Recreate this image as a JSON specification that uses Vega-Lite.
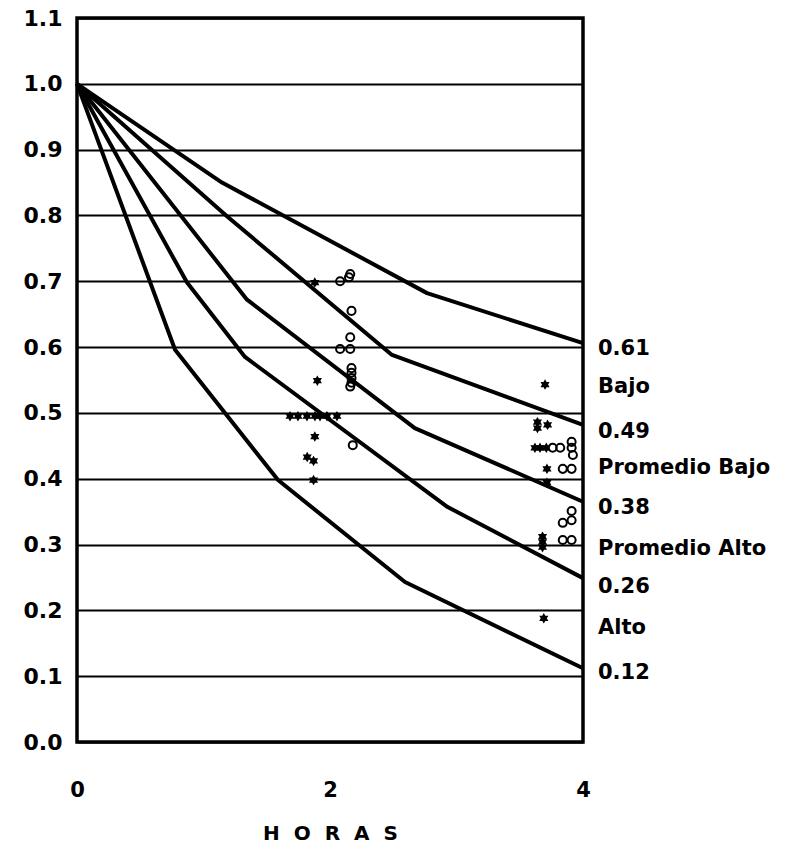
{
  "$schema": "https://vega.github.io/schema/vega-lite/v6.json",
  "width": 506,
  "height": 724,
  "autosize": {"type": "none"},
  "padding": {"left": 77, "top": 18, "right": 203, "bottom": 111},
  "background": "white",
  "datasets": {
    "curves": [
      {"curve": "c1", "t": 0, "v": 1.0},
      {"curve": "c1", "t": 1.146, "v": 0.85},
      {"curve": "c1", "t": 2.767, "v": 0.682},
      {"curve": "c1", "t": 4, "v": 0.606},
      {"curve": "c2", "t": 0, "v": 1.0},
      {"curve": "c2", "t": 1.19, "v": 0.798},
      {"curve": "c2", "t": 2.49, "v": 0.588},
      {"curve": "c2", "t": 4, "v": 0.482},
      {"curve": "c3", "t": 0, "v": 1.0},
      {"curve": "c3", "t": 1.344, "v": 0.672},
      {"curve": "c3", "t": 2.67, "v": 0.477},
      {"curve": "c3", "t": 4, "v": 0.365},
      {"curve": "c4", "t": 0, "v": 1.0},
      {"curve": "c4", "t": 0.87, "v": 0.698},
      {"curve": "c4", "t": 1.328, "v": 0.585},
      {"curve": "c4", "t": 2.93, "v": 0.357},
      {"curve": "c4", "t": 4, "v": 0.249},
      {"curve": "c5", "t": 0, "v": 1.0},
      {"curve": "c5", "t": 0.775, "v": 0.596},
      {"curve": "c5", "t": 1.589, "v": 0.398},
      {"curve": "c5", "t": 2.593, "v": 0.243},
      {"curve": "c5", "t": 4, "v": 0.112}
    ],
    "stars": [
      {"t": 1.88, "v": 0.698},
      {"t": 1.9, "v": 0.549},
      {"t": 1.684, "v": 0.495},
      {"t": 1.747, "v": 0.495},
      {"t": 1.818, "v": 0.495},
      {"t": 1.881, "v": 0.495},
      {"t": 1.921, "v": 0.495},
      {"t": 1.976, "v": 0.495},
      {"t": 2.055, "v": 0.495},
      {"t": 1.88, "v": 0.464},
      {"t": 1.82, "v": 0.433},
      {"t": 1.87, "v": 0.427},
      {"t": 1.87, "v": 0.398},
      {"t": 3.7, "v": 0.543},
      {"t": 3.64, "v": 0.486},
      {"t": 3.72, "v": 0.482},
      {"t": 3.64, "v": 0.477},
      {"t": 3.62, "v": 0.447},
      {"t": 3.66, "v": 0.447},
      {"t": 3.71, "v": 0.447},
      {"t": 3.715, "v": 0.415},
      {"t": 3.715, "v": 0.394},
      {"t": 3.68, "v": 0.312},
      {"t": 3.68, "v": 0.304},
      {"t": 3.68, "v": 0.296},
      {"t": 3.69, "v": 0.188}
    ],
    "circles": [
      {"t": 2.08, "v": 0.7},
      {"t": 2.15, "v": 0.706},
      {"t": 2.16, "v": 0.711},
      {"t": 2.17, "v": 0.655},
      {"t": 2.16, "v": 0.615},
      {"t": 2.08, "v": 0.597},
      {"t": 2.16, "v": 0.597},
      {"t": 2.17, "v": 0.568},
      {"t": 2.17, "v": 0.561},
      {"t": 2.17, "v": 0.553},
      {"t": 2.17, "v": 0.546},
      {"t": 2.16, "v": 0.54},
      {"t": 2.18, "v": 0.451},
      {"t": 3.76, "v": 0.447},
      {"t": 3.82, "v": 0.447},
      {"t": 3.91, "v": 0.456},
      {"t": 3.91, "v": 0.447},
      {"t": 3.92, "v": 0.436},
      {"t": 3.84, "v": 0.415},
      {"t": 3.91, "v": 0.415},
      {"t": 3.84, "v": 0.333},
      {"t": 3.91, "v": 0.337},
      {"t": 3.91, "v": 0.351},
      {"t": 3.84, "v": 0.307},
      {"t": 3.91, "v": 0.307}
    ],
    "labels": [
      {"t": 4, "v": 0.597, "text": "0.61"},
      {"t": 4, "v": 0.54, "text": "Bajo"},
      {"t": 4, "v": 0.471, "text": "0.49"},
      {"t": 4, "v": 0.416, "text": "Promedio Bajo"},
      {"t": 4, "v": 0.356, "text": "0.38"},
      {"t": 4, "v": 0.293, "text": "Promedio Alto"},
      {"t": 4, "v": 0.236, "text": "0.26"},
      {"t": 4, "v": 0.173, "text": "Alto"},
      {"t": 4, "v": 0.105, "text": "0.12"}
    ]
  },
  "layer": [
    {
      "data": {"name": "curves"},
      "mark": {"type": "line", "color": "black", "strokeWidth": 4, "strokeJoin": "round"},
      "encoding": {
        "x": {
          "field": "t", "type": "quantitative",
          "scale": {"domain": [0, 4], "nice": false, "zero": false},
          "axis": {
            "values": [0, 2, 4], "format": "d", "grid": false, "ticks": false, "domain": false,
            "labelPadding": 37, "labelFontSize": 21, "labelFont": "DejaVu Sans", "labelFontWeight": "bold",
            "labelColor": "black", "labelFlush": false,
            "title": "H\u2002\u2009O\u2002\u2009R\u2002\u2009A\u2002\u2009S", "titleFontSize": 20, "titleFont": "DejaVu Sans",
            "titleFontWeight": "bold", "titleColor": "black", "titlePadding": 23
          }
        },
        "y": {
          "field": "v", "type": "quantitative",
          "scale": {"domain": [0, 1.1], "nice": false, "zero": false},
          "axis": {
            "values": [0, 0.1, 0.2, 0.3, 0.4, 0.5, 0.6, 0.7, 0.8, 0.9, 1.0, 1.1],
            "format": ".1f", "grid": true, "gridColor": "black", "gridWidth": 1.8, "gridOpacity": 1,
            "ticks": false, "domain": false, "labelPadding": 15, "labelFontSize": 22,
            "labelFont": "DejaVu Sans", "labelFontWeight": "bold", "labelColor": "black",
            "labelFlush": false, "title": null
          }
        },
        "detail": {"field": "curve"}
      }
    },
    {
      "data": {"name": "stars"},
      "mark": {
        "type": "point", "filled": true, "color": "black", "opacity": 1, "size": 110,
        "shape": "M0,-1L0.29,-0.5L0.87,-0.5L0.58,0L0.87,0.5L0.29,0.5L0,1L-0.29,0.5L-0.87,0.5L-0.58,0L-0.87,-0.5L-0.29,-0.5Z"
      },
      "encoding": {
        "x": {"field": "t", "type": "quantitative"},
        "y": {"field": "v", "type": "quantitative"}
      }
    },
    {
      "data": {"name": "circles"},
      "mark": {"type": "point", "shape": "circle", "filled": false, "color": "black", "opacity": 1, "size": 65, "strokeWidth": 2},
      "encoding": {
        "x": {"field": "t", "type": "quantitative"},
        "y": {"field": "v", "type": "quantitative"}
      }
    },
    {
      "data": {"name": "labels"},
      "mark": {"type": "text", "align": "left", "baseline": "middle", "dx": 15, "font": "DejaVu Sans", "fontWeight": "bold", "fontSize": 21, "color": "black"},
      "encoding": {
        "x": {"field": "t", "type": "quantitative"},
        "y": {"field": "v", "type": "quantitative"},
        "text": {"field": "text"}
      }
    }
  ],
  "config": {
    "view": {"stroke": "black", "strokeWidth": 3.5},
    "axis": {"labelColor": "black"}
  }
}
